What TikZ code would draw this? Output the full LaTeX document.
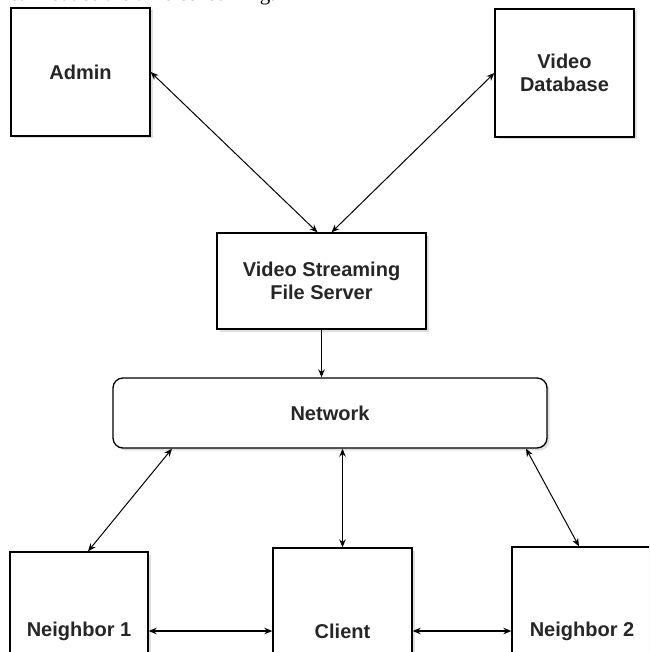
\documentclass[tikz,border=0pt]{standalone}
\usepackage{fontspec}
\setmainfont{Liberation Sans}
\newfontfamily\serifcut{Liberation Serif}
\usetikzlibrary{arrows.meta,shadows}
\begin{document}
\begin{tikzpicture}[x=1pt,y=-1pt,
  box/.style={draw=black, line width=1.3pt, fill=white, inner sep=0pt,
    font=\bfseries\fontsize{20}{23}\selectfont, text=black!85, align=center,
    drop shadow={shadow xshift=2.5pt, shadow yshift=-2.5pt, opacity=0.25, fill=gray}},
  link/.style={line width=1pt, {Stealth[length=8pt,width=6.5pt]}-{Stealth[length=8pt,width=6.5pt]}},
  thicklink/.style={link, line width=1.7pt},
  oneway/.style={line width=1.2pt, -{Stealth[length=8pt,width=6.5pt]}}]
\clip (0,0) rectangle (649,652);
\fill[white] (0,0) rectangle (649,652);
% cut-off text line at the top (cropped in the reference)
\node[anchor=base west, inner sep=0pt, font=\serifcut\fontsize{21}{24}\selectfont] (caption) at (9,1) {can reduce the time consuming.};
% boxes
\node[box, minimum width=139pt, minimum height=128pt] (admin) at (80.5,72) {Admin};
\node[box, minimum width=139pt, minimum height=128pt] (db) at (564.5,73) {Video\\Database};
\node[box, minimum width=209pt, minimum height=96pt] (server) at (321.5,281) {Video Streaming\\File Server};
\node[box, rounded corners=10pt, minimum width=434pt, minimum height=70pt] (network) at (330,413) {Network};
\node[box, minimum width=138pt, minimum height=158pt] (n1) at (79,631) {Neighbor 1};
\node[box, minimum width=139pt, minimum height=166pt] (client) at (342.5,631) {Client};
\node[box, minimum width=140pt, minimum height=168pt] (n2) at (582,631) {Neighbor 2};
% connectors
\draw[link] (admin.east) -- ([xshift=-4pt]server.north);
\draw[link] (db.west) -- ([xshift=10pt]server.north);
\draw[oneway] (server.south) -- (server.south |- network.north);
\draw[link] ([xshift=-158pt]network.south) -- ([xshift=9pt]n1.north);
\draw[thicklink] (client.north |- network.south) -- (client.north);
\draw[link] ([xshift=196pt]network.south) -- ([xshift=-3pt]n2.north);
\draw[thicklink] (n1.east) -- (client.west);
\draw[thicklink] (client.east) -- (n2.west);
\end{tikzpicture}
\end{document}
